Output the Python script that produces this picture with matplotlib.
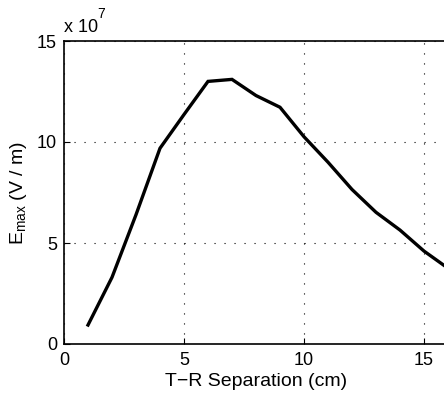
import matplotlib
matplotlib.use("Agg")
import matplotlib.pyplot as plt

plt.rcParams['font.family'] = ['Liberation Sans', 'DejaVu Sans']
plt.rcParams['mathtext.fontset'] = 'custom'
plt.rcParams['mathtext.rm'] = 'Liberation Sans'
plt.rcParams['mathtext.it'] = 'Liberation Sans'

separation_cm = [1, 2, 3, 4, 5, 6, 7, 8, 9, 10, 11, 12, 13, 14, 15, 16]
emax_e7 = [0.94, 3.3, 6.4, 9.69, 11.36, 13.0, 13.1, 12.3, 11.72, 10.26, 9.0, 7.65, 6.52, 5.64, 4.6, 3.75]
xticks = [0, 5, 10, 15]
yticks = [0, 5, 10, 15]

fig = plt.figure(figsize=(4.44, 3.95), dpi=100)
ax = fig.add_axes([64/444, 51/395, 384/444, 303/395])
ax.plot(separation_cm, emax_e7, color='black', lw=2.4, solid_joinstyle='miter')
ax.set_xlim(0, 16)
ax.set_ylim(0, 15)
ax.set_xticks(xticks)
ax.set_yticks(yticks)
ax.tick_params(direction='in', length=4, labelsize=13, colors='black')
ax.tick_params(axis='x', pad=6)
ax.tick_params(axis='y', pad=5)
ax.grid(True, color='black', linestyle=(0, (1, 8)), linewidth=0.8)
for s in ax.spines.values():
    s.set_linewidth(1.2)
ax.set_xlabel('T\u2212R Separation (cm)', fontsize=14, labelpad=3)
ax.set_ylabel(r'E$_{\rm max}$ (V / m)', fontsize=14, labelpad=6)
ax.text(0.0, 1.03, 'x 10', transform=ax.transAxes, fontsize=13, ha='left', va='baseline')
ax.text(0.0875, 1.075, '7', transform=ax.transAxes, fontsize=10, ha='left', va='baseline')
fig.savefig('out.png', dpi=100)
